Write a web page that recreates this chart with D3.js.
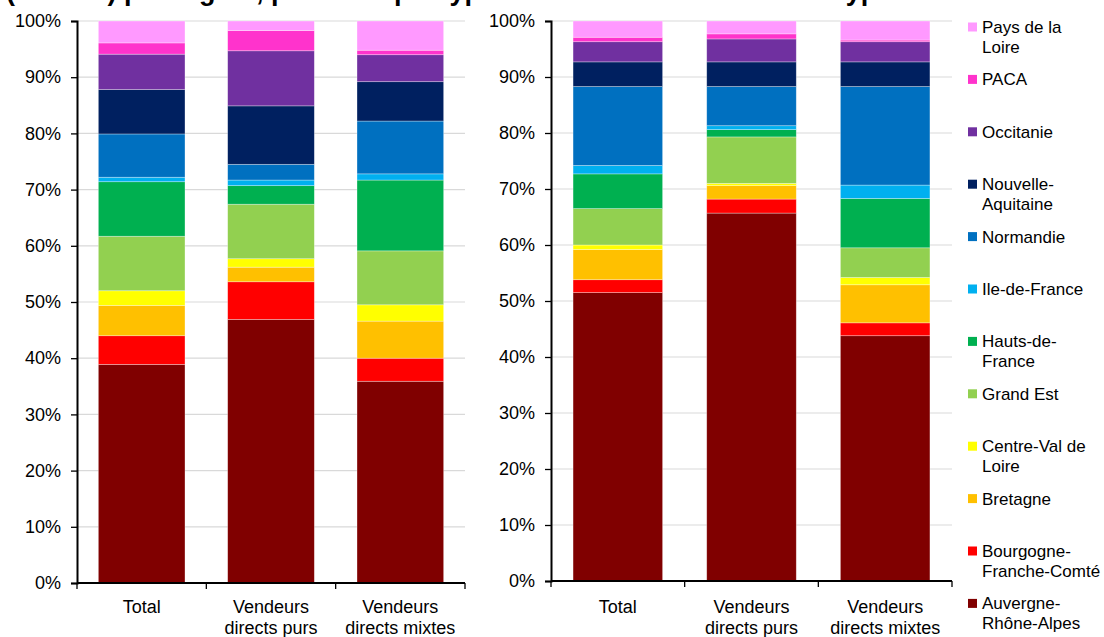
<!DOCTYPE html>
<html>
<head>
<meta charset="utf-8">
<script src="https://cdn.jsdelivr.net/npm/d3@7"></script>
<style>
  html, body { margin: 0; padding: 0; background: #fff; overflow: hidden; }
  svg { display: block; font-family: "Liberation Sans", Arial, sans-serif; }
</style>
</head>
<body>
<svg id="chart" width="1104" height="637"></svg>
<script>
// ---- Data ----
const regions = [
  "Auvergne-Rhône-Alpes", "Bourgogne-Franche-Comté", "Bretagne", "Centre-Val de Loire",
  "Grand Est", "Hauts-de-France", "Ile-de-France", "Normandie",
  "Nouvelle-Aquitaine", "Occitanie", "PACA", "Pays de la Loire"
];
const legendLabels = [
  ["Auvergne-", "Rhône-Alpes"], ["Bourgogne-", "Franche-Comté"], ["Bretagne"], ["Centre-Val de", "Loire"],
  ["Grand Est"], ["Hauts-de-", "France"], ["Ile-de-France"], ["Normandie"],
  ["Nouvelle-", "Aquitaine"], ["Occitanie"], ["PACA"], ["Pays de la", "Loire"]
];
const regionColors = [
  "#800000", "#FF0000", "#FFC000", "#FFFF00",
  "#92D050", "#00B050", "#00B0F0", "#0070C0",
  "#002060", "#7030A0", "#FF33CC", "#FF99FF"
];
const categories = ["Total", "Vendeurs directs purs", "Vendeurs directs mixtes"];
const categoryLines = [["Total"], ["Vendeurs", "directs purs"], ["Vendeurs", "directs mixtes"]];
const yTicks = [0, 10, 20, 30, 40, 50, 60, 70, 80, 90, 100];

// Left panel: shares (%) per region, one array per category, in region order
const leftTotal  = [38.9, 5.1, 5.4, 2.6, 9.7, 9.7, 0.8, 7.7, 7.9, 6.3, 2.0, 3.9];
const leftPurs   = [46.9, 6.7, 2.6, 1.5, 9.7, 3.3, 1.0, 2.8, 10.4, 9.8, 3.6, 1.7];
const leftMixtes = [35.9, 4.1, 6.6, 2.9, 9.6, 12.6, 1.1, 9.4, 7.0, 4.8, 0.8, 5.2];

// Right panel
const rightTotal  = [51.5, 2.3, 5.4, 0.8, 6.5, 6.2, 1.5, 14.1, 4.4, 3.6, 0.8, 2.9];
const rightPurs   = [65.7, 2.5, 2.4, 0.4, 8.3, 1.3, 0.7, 7.0, 4.4, 4.1, 0.9, 2.3];
const rightMixtes = [43.8, 2.3, 6.8, 1.3, 5.3, 8.8, 2.4, 17.6, 4.4, 3.6, 0.3, 3.4];

// Title (cut off at the top edge in the reference; only its descenders show)
const titleText = "(en UTA) par région, pour chaque type de vendeurs et selon leur type";

// ---- Drawing ----
const svg = d3.select("#chart");
const FONT_AXIS = 18, FONT_LEG = 17;

svg.append("text")
  .attr("x", 6).attr("y", 0)
  .attr("font-size", 27).attr("font-weight", "bold").attr("fill", "#000")
  .text(titleText);

function buildRows(seriesList) {
  return categories.map((c, ci) => {
    const row = { cat: c };
    regions.forEach((r, ri) => { row[r] = seriesList[ci][ri]; });
    return row;
  });
}

function drawPanel(rows, box) {
  const g = svg.append("g");
  const x = d3.scaleBand().domain(categories).range([box.x0, box.x1])
    .paddingInner(0.33).paddingOuter(0.165);
  const y = d3.scaleLinear().domain([0, 100]).range([box.yB, box.yT]);

  // gridlines
  g.append("g").selectAll("line").data(yTicks.filter(t => t > 0)).join("line")
    .attr("x1", box.x0).attr("x2", box.x1)
    .attr("y1", d => y(d)).attr("y2", d => y(d))
    .attr("stroke", "#d9d9d9").attr("stroke-width", 1.2);

  // stacked bars
  const stack = d3.stack().keys(regions)(rows);
  g.append("g").selectAll("g").data(stack).join("g")
    .attr("fill", (d, i) => regionColors[i])
    .selectAll("rect").data(d => d).join("rect")
    .attr("x", d => x(d.data.cat))
    .attr("width", x.bandwidth())
    .attr("y", d => y(d[1]))
    .attr("height", d => Math.max(0, y(d[0]) - y(d[1])))
    .attr("stroke", "rgba(255,255,255,0.45)")
    .attr("stroke-width", 0.7);

  // y axis
  const yAxis = d3.axisLeft(y).tickValues(yTicks).tickSize(6).tickPadding(10)
    .tickFormat(d => d + "%");
  const ya = g.append("g").attr("transform", `translate(${box.x0},0)`).call(yAxis);
  ya.select(".domain").attr("stroke", "#000").attr("stroke-width", 2);
  ya.selectAll(".tick line").attr("stroke", "#000").attr("stroke-width", 1.3);
  ya.selectAll(".tick text").attr("font-size", FONT_AXIS).attr("fill", "#000")
    .attr("font-family", "Liberation Sans, Arial, sans-serif");

  // x axis with ticks on category boundaries
  const step = x.step();
  const bounds = d3.range(categories.length + 1).map(i => box.x0 + i * step);
  g.append("line").attr("x1", box.x0).attr("x2", box.x1)
    .attr("y1", box.yB).attr("y2", box.yB)
    .attr("stroke", "#000").attr("stroke-width", 2);
  g.append("g").selectAll("line").data(bounds).join("line")
    .attr("x1", d => d).attr("x2", d => d)
    .attr("y1", box.yB).attr("y2", box.yB + 6)
    .attr("stroke", "#000").attr("stroke-width", 1.3);

  // category labels
  const lab = g.append("g").selectAll("text").data(categories).join("text")
    .attr("text-anchor", "middle").attr("font-size", FONT_AXIS).attr("fill", "#000")
    .attr("x", d => x(d) + x.bandwidth() / 2);
  lab.each(function(d, i) {
    const t = d3.select(this);
    categoryLines[i].forEach((line, li) => {
      t.append("tspan").attr("x", x(d) + x.bandwidth() / 2)
        .attr("y", 613 + li * 21).text(line);
    });
  });
}

drawPanel(buildRows([leftTotal, leftPurs, leftMixtes]), { x0: 77, x1: 465, yT: 21, yB: 583 });
drawPanel(buildRows([rightTotal, rightPurs, rightMixtes]), { x0: 551, x1: 952, yT: 21, yB: 581 });

// legend (reverse order, top = last region)
const legendOrder = d3.range(regions.length).reverse();
const leg = svg.append("g");
legendOrder.forEach((ri, k) => {
  const cy = 27 + k * 52.4;
  leg.append("rect").attr("x", 968).attr("y", cy - 4.5).attr("width", 9).attr("height", 9)
    .attr("fill", regionColors[ri]);
  const t = leg.append("text").attr("font-size", FONT_LEG).attr("fill", "#000");
  legendLabels[ri].forEach((line, li) => {
    t.append("tspan").attr("x", 982).attr("y", cy + 6 + li * 20).text(line);
  });
});
</script>
</body>
</html>
